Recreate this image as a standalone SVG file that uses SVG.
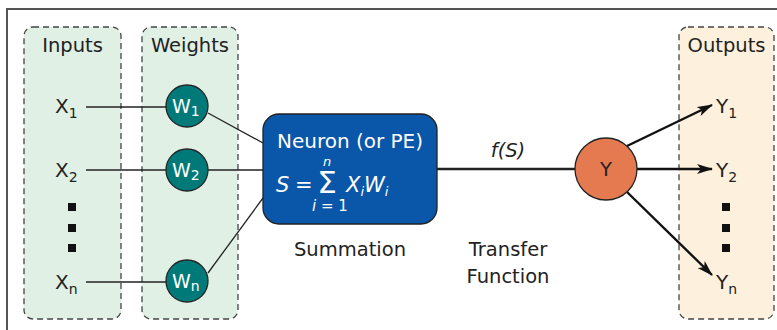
<svg xmlns="http://www.w3.org/2000/svg" width="777" height="330" viewBox="0 0 777 330">
<style>
text{font-family:"DejaVu Sans","Liberation Sans",sans-serif;fill:#222}
.lbl{font-size:19.5px;text-anchor:middle}
.grp{stroke:#444;stroke-width:1.3;stroke-dasharray:6 4}
.w{fill:#007a78;stroke:#222;stroke-width:1.3}
.ln{stroke:#222;stroke-width:1.3;fill:none}
.dot{fill:#111}
.wh{fill:#fff}
</style>
<defs>
<marker id="ah" viewBox="0 0 16 10" refX="15" refY="5" markerWidth="16" markerHeight="10" markerUnits="userSpaceOnUse" orient="auto">
<path d="M0,0 L16,5 L0,10 L4,5 Z" fill="#111"/>
</marker>
</defs>
<rect width="777" height="330" fill="#fff"/>
<path d="M7,335 V9 H790" fill="none" stroke="#555" stroke-width="2"/>

<g id="inputs">
<rect x="24" y="27" width="97" height="292" rx="9" fill="#e1f0e5" class="grp"/>
<text x="72.5" y="52" class="lbl">Inputs</text>
<text x="55" y="113" font-size="20">X<tspan font-size="14" dy="5">1</tspan></text>
<text x="55" y="177" font-size="20">X<tspan font-size="14" dy="5">2</tspan></text>
<rect x="68" y="203" width="8" height="8" class="dot"/>
<rect x="68" y="224" width="8" height="8" class="dot"/>
<rect x="68" y="244" width="8" height="8" class="dot"/>
<text x="55" y="289" font-size="20">X<tspan font-size="14" dy="5">n</tspan></text>
</g>

<g id="weights">
<rect x="142" y="27" width="96" height="292" rx="9" fill="#e1f0e5" class="grp"/>
<text x="190" y="52" class="lbl">Weights</text>
</g>

<g id="outputs">
<rect x="679" y="27" width="95" height="292" rx="9" fill="#fdf1de" class="grp"/>
<text x="726.5" y="52" class="lbl">Outputs</text>
<text x="716" y="113" font-size="20">Y<tspan font-size="14" dy="5">1</tspan></text>
<text x="716" y="177" font-size="20">Y<tspan font-size="14" dy="5">2</tspan></text>
<rect x="722" y="203" width="8" height="8" class="dot"/>
<rect x="722" y="224" width="8" height="8" class="dot"/>
<rect x="722" y="244" width="8" height="8" class="dot"/>
<text x="716" y="289" font-size="20">Y<tspan font-size="14" dy="5">n</tspan></text>
</g>

<g id="connectors">
<line x1="86" y1="107" x2="166" y2="107" class="ln"/>
<line x1="86" y1="170" x2="166" y2="170" class="ln"/>
<line x1="86" y1="282" x2="166" y2="282" class="ln"/>
<line x1="208" y1="113" x2="263" y2="143" class="ln"/>
<line x1="208" y1="170" x2="263" y2="170" class="ln"/>
<line x1="208" y1="273" x2="263" y2="198" class="ln"/>
<line x1="437" y1="169" x2="575" y2="169" stroke="#222" stroke-width="2.4"/>
<line x1="627" y1="146" x2="712" y2="105" stroke="#111" stroke-width="2.4" marker-end="url(#ah)"/>
<line x1="637" y1="169" x2="712" y2="169" stroke="#111" stroke-width="2.4" marker-end="url(#ah)"/>
<line x1="627" y1="192" x2="712" y2="275" stroke="#111" stroke-width="2.4" marker-end="url(#ah)"/>
<text x="508" y="157" class="lbl" font-style="italic">f(S)</text>
</g>

<g id="w1">
<circle cx="187" cy="106" r="21" class="w"/>
<text x="172" y="113" font-size="19" class="wh">W<tspan font-size="14" dy="3" class="wh">1</tspan></text>
</g>
<g id="w2">
<circle cx="187" cy="170" r="21" class="w"/>
<text x="172" y="177" font-size="19" class="wh">W<tspan font-size="14" dy="3" class="wh">2</tspan></text>
</g>
<g id="wn">
<circle cx="187" cy="281" r="21" class="w"/>
<text x="172" y="288" font-size="19" class="wh">W<tspan font-size="14" dy="3" class="wh">n</tspan></text>
</g>

<g id="neuron">
<rect x="263" y="114" width="174" height="110" rx="16" fill="#0a56a8" stroke="#222" stroke-width="1.3"/>
<text x="350" y="148" class="lbl wh" style="font-size:20px">Neuron (or PE)</text>
<text x="276" y="192" font-size="21" font-style="italic" class="wh">S</text>
<text x="295" y="192" font-size="21" class="wh">=</text>
<text x="327" y="193" font-size="31" text-anchor="middle" class="wh">Σ</text>
<text x="327" y="166" font-size="13" font-style="italic" text-anchor="middle" class="wh">n</text>
<text x="330" y="211" font-size="15" text-anchor="middle" class="wh"><tspan font-style="italic" class="wh">i</tspan> = 1</text>
<text x="346" y="192" font-size="21" font-style="italic" class="wh">X<tspan font-size="13" dy="4" class="wh">i</tspan><tspan dy="-4" class="wh">W</tspan><tspan font-size="13" dy="4" class="wh">i</tspan></text>
<text x="350" y="256" class="lbl">Summation</text>
</g>

<g id="y">
<circle cx="606" cy="169" r="31" fill="#e5794f" stroke="#222" stroke-width="1.3"/>
<text x="606" y="176" class="lbl">Y</text>
<text x="508" y="256" class="lbl">Transfer</text>
<text x="508" y="283" class="lbl">Function</text>
</g>
</svg>
